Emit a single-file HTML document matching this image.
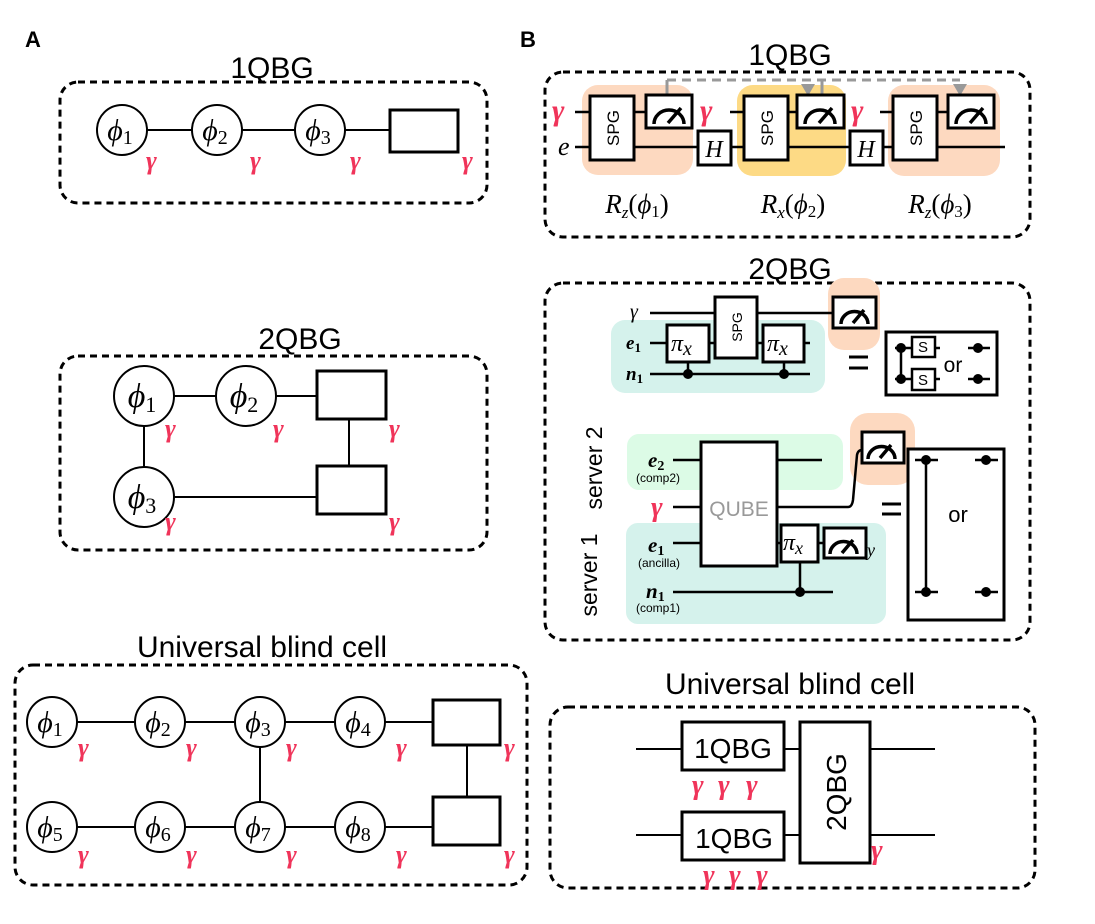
<!DOCTYPE html>
<html><head><meta charset="utf-8"><style>
html,body{margin:0;padding:0;background:#fff}
svg{display:block}
.t{font-family:"Liberation Sans",sans-serif}
.m{font-family:"Liberation Serif",serif;font-style:italic}
.g{font-family:"Liberation Serif",serif;font-style:italic;font-weight:bold;fill:#f0345a}
</style></head><body>
<svg width="1095" height="924" viewBox="0 0 1095 924" xmlns="http://www.w3.org/2000/svg">
<g fill="none" stroke="#000" stroke-width="3" stroke-dasharray="7,5">
<rect x="60" y="82" width="427" height="121" rx="18"/>
<rect x="60" y="356" width="427" height="194" rx="18"/>
<rect x="15" y="665" width="512" height="220" rx="18"/>
<rect x="545" y="72" width="485" height="165" rx="18"/>
<rect x="545" y="283" width="485" height="357" rx="18"/>
<rect x="550" y="707" width="485" height="181" rx="18"/>
</g>
<text x="25" y="47" class="t" font-size="22" font-weight="bold">A</text>
<text x="520" y="47" class="t" font-size="22" font-weight="bold">B</text>
<g class="t" font-size="30" text-anchor="middle">
<text x="272" y="78">1QBG</text>
<text x="300" y="349">2QBG</text>
<text x="262" y="657">Universal blind cell</text>
<text x="790" y="65">1QBG</text>
<text x="790" y="279">2QBG</text>
<text x="790" y="694">Universal blind cell</text>
</g>
<!-- A 1QBG -->
<line x1="122" y1="130" x2="390" y2="130" stroke="#000" stroke-width="2"/>
<g stroke="#000" stroke-width="2" fill="#fff">
<circle cx="122" cy="130" r="25"/><circle cx="217" cy="130" r="25"/><circle cx="320" cy="130" r="25"/>
<rect x="390" y="110" width="68" height="42" stroke-width="3"/>
</g>
<g class="m" font-size="30" text-anchor="middle">
<text x="120" y="140">ϕ<tspan font-size="20" font-style="normal" dy="4">1</tspan></text>
<text x="215" y="140">ϕ<tspan font-size="20" font-style="normal" dy="4">2</tspan></text>
<text x="318" y="140">ϕ<tspan font-size="20" font-style="normal" dy="4">3</tspan></text>
</g>
<g class="g" font-size="26"><text x="146" y="169">γ</text><text x="250" y="169">γ</text><text x="350" y="169">γ</text><text x="462" y="169">γ</text></g>
<!-- A 2QBG -->
<g stroke="#000" stroke-width="2" fill="none">
<line x1="144" y1="396" x2="318" y2="396"/>
<line x1="144" y1="396" x2="144" y2="497"/>
<line x1="144" y1="497" x2="318" y2="497"/>
<line x1="349" y1="419" x2="349" y2="466"/>
</g>
<g stroke="#000" stroke-width="2" fill="#fff">
<circle cx="144" cy="396" r="30"/><circle cx="246" cy="396" r="30"/><circle cx="144" cy="497" r="30"/>
<rect x="317" y="371" width="69" height="48" stroke-width="3"/>
<rect x="317" y="466" width="69" height="48" stroke-width="3"/>
</g>
<g class="m" font-size="34" text-anchor="middle">
<text x="142" y="407">ϕ<tspan font-size="22" font-style="normal" dy="5">1</tspan></text>
<text x="244" y="407">ϕ<tspan font-size="22" font-style="normal" dy="5">2</tspan></text>
<text x="142" y="508">ϕ<tspan font-size="22" font-style="normal" dy="5">3</tspan></text>
</g>
<g class="g" font-size="26"><text x="165" y="437">γ</text><text x="273" y="437">γ</text><text x="389" y="437">γ</text><text x="165" y="530">γ</text><text x="389" y="530">γ</text></g>
<!-- A UBC -->
<g stroke="#000" stroke-width="2" fill="none">
<line x1="52" y1="722" x2="433" y2="722"/><line x1="52" y1="827" x2="433" y2="827"/>
<line x1="260" y1="722" x2="260" y2="827"/><line x1="467" y1="745" x2="467" y2="797"/>
</g>
<g stroke="#000" stroke-width="2" fill="#fff">
<circle cx="52" cy="722" r="25"/><circle cx="160" cy="722" r="25"/><circle cx="260" cy="722" r="25"/><circle cx="360" cy="722" r="25"/>
<circle cx="52" cy="827" r="25"/><circle cx="160" cy="827" r="25"/><circle cx="260" cy="827" r="25"/><circle cx="360" cy="827" r="25"/>
<rect x="433" y="700" width="67" height="45" stroke-width="3"/>
<rect x="433" y="797" width="67" height="48" stroke-width="3"/>
</g>
<g class="m" font-size="30" text-anchor="middle">
<text x="50" y="732">ϕ<tspan font-size="20" font-style="normal" dy="4">1</tspan></text>
<text x="158" y="732">ϕ<tspan font-size="20" font-style="normal" dy="4">2</tspan></text>
<text x="258" y="732">ϕ<tspan font-size="20" font-style="normal" dy="4">3</tspan></text>
<text x="358" y="732">ϕ<tspan font-size="20" font-style="normal" dy="4">4</tspan></text>
<text x="50" y="837">ϕ<tspan font-size="20" font-style="normal" dy="4">5</tspan></text>
<text x="158" y="837">ϕ<tspan font-size="20" font-style="normal" dy="4">6</tspan></text>
<text x="258" y="837">ϕ<tspan font-size="20" font-style="normal" dy="4">7</tspan></text>
<text x="358" y="837">ϕ<tspan font-size="20" font-style="normal" dy="4">8</tspan></text>
</g>
<g class="g" font-size="26">
<text x="78" y="756">γ</text><text x="186" y="756">γ</text><text x="286" y="756">γ</text><text x="396" y="756">γ</text><text x="504" y="756">γ</text>
<text x="78" y="863">γ</text><text x="186" y="863">γ</text><text x="286" y="863">γ</text><text x="396" y="863">γ</text><text x="504" y="863">γ</text>
</g>
<!-- B 1QBG -->
<rect x="582" y="85" width="111" height="90" rx="16" fill="#fdd9c0"/>
<rect x="737" y="85" width="109" height="91" rx="16" fill="#fdda85"/>
<rect x="888" y="85" width="112" height="91" rx="16" fill="#fdd9c0"/>
<g stroke="#999" stroke-width="3" fill="none">
<line x1="667" y1="80" x2="960" y2="80" stroke-dasharray="9,6"/>
<line x1="667" y1="80" x2="667" y2="95"/><line x1="822" y1="80" x2="822" y2="95"/>
</g>
<polygon points="801,84 815,84 808,96" fill="#999"/><polygon points="953,84 967,84 960,96" fill="#999"/>
<g stroke="#000" stroke-width="2.5" fill="none">
<line x1="575" y1="147" x2="1005" y2="147"/>
<line x1="575" y1="112" x2="646" y2="112"/>
<line x1="730" y1="112" x2="797" y2="112"/>
<line x1="880" y1="112" x2="948" y2="112"/>
</g>
<g stroke="#000" stroke-width="3" fill="#fff">
<rect x="590" y="96" width="44" height="64"/><rect x="646" y="95" width="46" height="33"/>
<rect x="698" y="131" width="33" height="34"/>
<rect x="744" y="96" width="44" height="64"/><rect x="797" y="95" width="47" height="33"/>
<rect x="850" y="131" width="33" height="34"/>
<rect x="893" y="96" width="44" height="64"/><rect x="948" y="95" width="46" height="33"/>
</g>
<g stroke="#000" stroke-width="3.5" fill="none">
<path d="M654,124 a15,14 0 0 1 30,0 M668,123 l13,-15"/>
<path d="M805,124 a15,14 0 0 1 30,0 M819,123 l13,-15"/>
<path d="M956,124 a15,14 0 0 1 30,0 M970,123 l13,-15"/>
</g>
<g class="t" font-size="17">
<text transform="translate(619,128) rotate(-90)" text-anchor="middle">SPG</text>
<text transform="translate(773,128) rotate(-90)" text-anchor="middle">SPG</text>
<text transform="translate(922,128) rotate(-90)" text-anchor="middle">SPG</text>
</g>
<g class="m" font-size="24" text-anchor="middle"><text x="714" y="157">H</text><text x="866" y="157">H</text></g>
<g class="g" font-size="30"><text x="552" y="120">γ</text><text x="700" y="120">γ</text><text x="851" y="120">γ</text></g>
<text x="558" y="155" class="m" font-size="26">e</text>
<g class="m" font-size="27" text-anchor="middle">
<text x="637" y="213">R<tspan font-size="17" dy="5">z</tspan><tspan dy="-5" font-style="normal">(</tspan>ϕ<tspan font-size="17" font-style="normal" dy="4">1</tspan><tspan dy="-4" font-style="normal">)</tspan></text>
<text x="793" y="213">R<tspan font-size="17" dy="5">x</tspan><tspan dy="-5" font-style="normal">(</tspan>ϕ<tspan font-size="17" font-style="normal" dy="4">2</tspan><tspan dy="-4" font-style="normal">)</tspan></text>
<text x="940" y="213">R<tspan font-size="17" dy="5">z</tspan><tspan dy="-5" font-style="normal">(</tspan>ϕ<tspan font-size="17" font-style="normal" dy="4">3</tspan><tspan dy="-4" font-style="normal">)</tspan></text>
</g>
<!-- B 2QBG top -->
<rect x="611" y="320" width="214" height="73" rx="14" fill="#d5f2ec"/>
<rect x="828" y="278" width="52" height="72" rx="16" fill="#fdd9c0"/>
<g stroke="#000" stroke-width="2.5" fill="none">
<line x1="650" y1="313" x2="835" y2="313"/>
<line x1="650" y1="343" x2="810" y2="343"/>
<line x1="650" y1="374" x2="810" y2="374"/>
<line x1="688" y1="362" x2="688" y2="374"/><line x1="784" y1="362" x2="784" y2="374"/>
</g>
<circle cx="688" cy="374" r="5"/><circle cx="784" cy="374" r="5"/>
<g stroke="#000" stroke-width="3" fill="#fff">
<rect x="715" y="297" width="42" height="61"/>
<rect x="667" y="325" width="42" height="37"/><rect x="763" y="325" width="41" height="37"/>
<rect x="833" y="297" width="43" height="31"/>
</g>
<path d="M841,324 a13,12 0 0 1 27,0 M853,323 l11,-13" stroke="#000" stroke-width="3.5" fill="none"/>
<text transform="translate(742,327) rotate(-90)" text-anchor="middle" class="t" font-size="14">SPG</text>
<g class="m" font-size="24"><text x="671" y="351">π<tspan font-size="20" dy="4">x</tspan></text><text x="767" y="351">π<tspan font-size="20" dy="4">x</tspan></text></g>
<text x="630" y="318" class="m" font-size="20">γ</text>
<text x="626" y="349" class="m" font-size="19" font-weight="bold">e<tspan font-size="13" font-style="normal" dy="3">1</tspan></text>
<text x="626" y="380" class="m" font-size="19" font-weight="bold">n<tspan font-size="13" font-style="normal" dy="3">1</tspan></text>
<g stroke="#000" stroke-width="3"><line x1="849" y1="357" x2="868" y2="357"/><line x1="849" y1="368" x2="868" y2="368"/></g>
<rect x="886" y="332" width="111" height="63" fill="#fff" stroke="#000" stroke-width="3"/>
<g stroke="#000" stroke-width="2.5"><line x1="901" y1="348" x2="901" y2="379"/>
<line x1="895" y1="348" x2="912" y2="348"/><line x1="895" y1="379" x2="912" y2="379"/>
<line x1="935" y1="348" x2="940" y2="348"/><line x1="935" y1="379" x2="940" y2="379"/>
<line x1="968" y1="348" x2="990" y2="348"/><line x1="968" y1="379" x2="990" y2="379"/></g>
<g fill="#000"><circle cx="901" cy="348" r="5"/><circle cx="901" cy="379" r="5"/><circle cx="978" cy="348" r="5"/><circle cx="978" cy="379" r="5"/></g>
<g stroke="#000" stroke-width="2.5" fill="#fff"><rect x="912" y="337" width="23" height="20"/><rect x="912" y="369" width="23" height="21"/></g>
<g class="t" font-size="15" text-anchor="middle"><text x="923" y="352">S</text><text x="923" y="385">S</text></g>
<text x="953" y="372" class="t" font-size="21" text-anchor="middle">or</text>
<!-- B 2QBG bottom -->
<rect x="627" y="434" width="216" height="56" rx="12" fill="#dcfbe6"/>
<rect x="626" y="523" width="260" height="101" rx="12" fill="#d5f2ec"/>
<rect x="850" y="413" width="65" height="72" rx="18" fill="#fdd9c0"/>
<g stroke="#000" stroke-width="2.5" fill="none">
<line x1="673" y1="460" x2="822" y2="460"/>
<path d="M673,507 H848 Q852,507 853,500 L857,455 Q858,450 862,450"/>
<line x1="673" y1="543" x2="701" y2="543"/>
<line x1="777" y1="543" x2="824" y2="543"/>
<line x1="673" y1="592" x2="833" y2="592"/>
<line x1="800" y1="562" x2="800" y2="592"/>
</g>
<circle cx="800" cy="592" r="5"/>
<g stroke="#000" stroke-width="3" fill="#fff">
<rect x="701" y="442" width="76" height="124"/>
<rect x="781" y="525" width="37" height="37"/>
<rect x="824" y="528" width="42" height="30"/>
<rect x="862" y="432" width="42" height="31"/>
</g>
<path d="M830,554 a13,12 0 0 1 27,0 M842,553 l11,-13" stroke="#000" stroke-width="3.5" fill="none"/>
<path d="M868,459 a13,12 0 0 1 27,0 M880,458 l11,-13" stroke="#000" stroke-width="3.5" fill="none"/>
<text x="739" y="516" class="t" font-size="21" fill="#999" text-anchor="middle">QUBE</text>
<text x="783" y="550" class="m" font-size="24">π<tspan font-size="18" dy="4">x</tspan></text>
<text x="867" y="556" class="m" font-size="18">y</text>
<text x="648" y="467" class="m" font-size="21" font-weight="bold">e<tspan font-size="14" font-style="normal" dy="3">2</tspan></text>
<text x="636" y="482" class="t" font-size="12">(comp2)</text>
<text x="651" y="516" class="g" font-size="28">γ</text>
<text x="648" y="552" class="m" font-size="21" font-weight="bold">e<tspan font-size="14" font-style="normal" dy="3">1</tspan></text>
<text x="638" y="567" class="t" font-size="12">(ancilla)</text>
<text x="646" y="598" class="m" font-size="21" font-weight="bold">n<tspan font-size="14" font-style="normal" dy="3">1</tspan></text>
<text x="636" y="612" class="t" font-size="12">(comp1)</text>
<g class="t" font-size="23" text-anchor="middle">
<text transform="translate(602,468) rotate(-90)">server 2</text>
<text transform="translate(597,575) rotate(-90)">server 1</text>
</g>
<g stroke="#000" stroke-width="3"><line x1="882" y1="504" x2="901" y2="504"/><line x1="882" y1="514" x2="901" y2="514"/></g>
<rect x="908" y="449" width="96" height="171" fill="#fff" stroke="#000" stroke-width="3"/>
<g stroke="#000" stroke-width="2.5"><line x1="926" y1="460" x2="926" y2="592"/>
<line x1="915" y1="460" x2="938" y2="460"/><line x1="915" y1="592" x2="938" y2="592"/>
<line x1="975" y1="460" x2="998" y2="460"/><line x1="975" y1="592" x2="998" y2="592"/></g>
<g fill="#000"><circle cx="926" cy="460" r="5"/><circle cx="926" cy="592" r="5"/><circle cx="986" cy="460" r="5"/><circle cx="986" cy="592" r="5"/></g>
<text x="958" y="522" class="t" font-size="22" text-anchor="middle">or</text>
<!-- B UBC -->
<g stroke="#000" stroke-width="2" fill="none">
<line x1="636" y1="749" x2="800" y2="749"/><line x1="636" y1="835" x2="800" y2="835"/>
<line x1="870" y1="749" x2="935" y2="749"/><line x1="870" y1="835" x2="935" y2="835"/>
</g>
<g stroke="#000" stroke-width="3" fill="#fff">
<rect x="682" y="722" width="102" height="48"/>
<rect x="682" y="812" width="102" height="48"/>
<rect x="800" y="722" width="70" height="141"/>
</g>
<g class="t" font-size="28" text-anchor="middle">
<text x="733" y="758">1QBG</text><text x="734" y="848">1QBG</text>
<text transform="translate(846,792) rotate(-90)">2QBG</text>
</g>
<g class="g" font-size="28">
<text x="692" y="794">γ</text><text x="718" y="794">γ</text><text x="746" y="794">γ</text>
<text x="703" y="884">γ</text><text x="729" y="884">γ</text><text x="756" y="884">γ</text>
<text x="871" y="859">γ</text>
</g>
</svg>
</body></html>
